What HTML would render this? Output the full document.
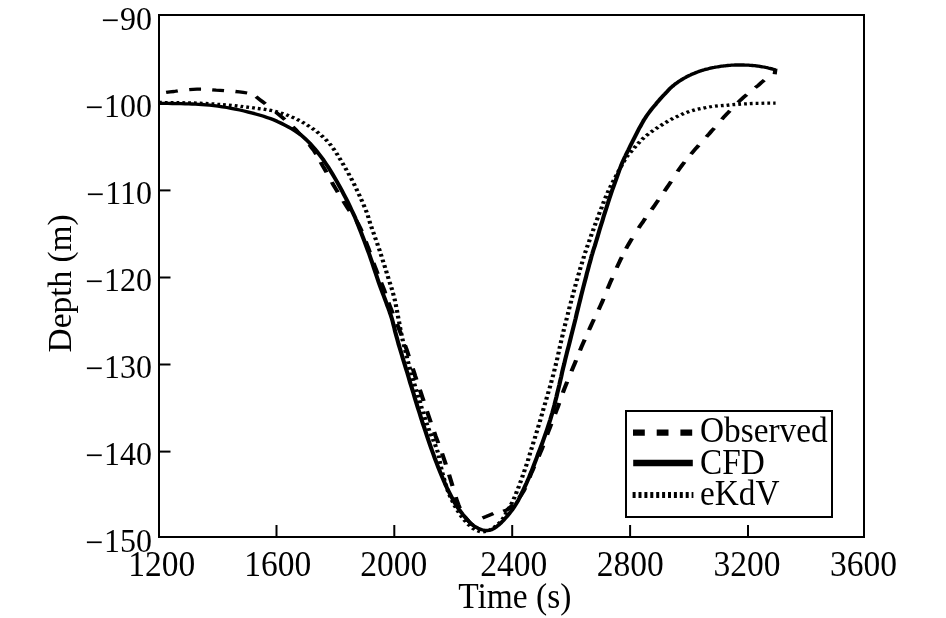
<!DOCTYPE html>
<html lang="en"><head><meta charset="utf-8"><title>Depth vs Time</title>
<style>
html,body{margin:0;padding:0;background:#fff;}
body{width:946px;height:618px;overflow:hidden;}
svg{display:block;}
text{font-family:"Liberation Serif",serif;font-size:32.5px;fill:#000;}
.ax{fill:none;stroke:#000;stroke-width:2;}
.c{fill:none;stroke:#000;stroke-width:3.3;stroke-linejoin:round;}
</style></head><body>
<svg width="946" height="618" viewBox="0 0 946 618">
<rect width="946" height="618" fill="#fff"/>
<g transform="scale(1.27 1)" fill="none" stroke="#000" stroke-width="3.3" stroke-linejoin="round">
<path d="M125.2 102.5 127.4 102.5M129.8 102.6 132.0 102.6M134.4 102.6 136.6 102.6M139.0 102.7 141.2 102.7M143.6 102.7 145.8 102.8M148.1 102.9 150.4 102.9M152.7 103.0 154.9 103.1M157.3 103.2 159.5 103.3M161.9 103.5 164.1 103.7M166.5 103.8 168.7 104.0M171.1 104.3 173.3 104.5M175.6 104.7 177.8 104.9M180.2 105.2 182.4 105.5M184.8 105.7 187.0 106.0M189.4 106.3 191.5 106.7M193.9 107.0 196.1 107.3M198.5 107.7 200.7 108.1M203.0 108.5 205.2 108.8M207.6 109.2 209.8 109.6M212.1 110.1 214.3 110.6M216.6 111.3 218.7 112.0M221.0 112.9 223.1 113.8M225.4 114.8 227.4 115.8M229.6 116.9 231.7 118.0M233.8 119.3 235.8 120.5M237.9 122.0 239.8 123.4M241.8 125.0 243.7 126.5M245.7 128.2 247.5 129.8M249.4 131.6 251.1 133.4M252.9 135.3 254.6 137.2M256.3 139.3 257.8 141.3M259.4 143.6 260.8 145.7M262.2 148.2 263.5 150.4M264.8 153.0 266.0 155.3M267.2 157.9 268.4 160.3M269.6 163.0 270.7 165.4M271.9 168.0 273.0 170.4M274.2 173.0 275.2 175.5M276.4 178.2 277.4 180.6M278.5 183.3 279.5 185.8M280.5 188.6 281.4 191.1M282.4 193.9 283.4 196.4M284.3 199.2 285.3 201.7M286.2 204.5 287.1 207.1M288.0 209.9 288.8 212.5M289.6 215.3 290.2 218.0M290.9 220.9 291.5 223.6M292.3 226.5 293.0 229.1M293.8 232.0 294.6 234.6M295.3 237.5 296.1 240.1M296.9 243.0 297.6 245.6M298.4 248.5 299.1 251.1M299.8 254.0 300.5 256.7M301.2 259.6 301.9 262.2M302.6 265.1 303.3 267.8M304.0 270.7 304.6 273.4M305.3 276.2 306.0 278.9M306.7 281.8 307.4 284.5M308.1 287.4 308.8 290.0M309.4 292.9 310.0 295.6M310.6 298.6 311.1 301.3M311.6 304.3 312.0 307.0M312.5 310.0 312.9 312.8M313.3 315.7 313.7 318.5M314.2 321.5 314.6 324.2M315.0 327.2 315.4 329.9M315.9 332.9 316.3 335.7M316.8 338.6 317.3 341.3M317.9 344.3 318.4 347.0M319.0 350.0 319.5 352.7M320.1 355.6 320.6 358.3M321.2 361.3 321.8 364.0M322.4 366.9 323.0 369.6M323.6 372.5 324.2 375.2M324.9 378.1 325.5 380.8M326.2 383.7 326.9 386.4M327.6 389.3 328.2 391.9M328.9 394.8 329.6 397.5M330.3 400.4 330.9 403.1M331.6 406.0 332.2 408.7M333.0 411.6 333.6 414.2M334.3 417.1 335.0 419.8M335.8 422.7 336.5 425.3M337.3 428.1 338.1 430.8M339.0 433.6 339.8 436.2M340.8 439.0 341.6 441.5M342.5 444.3 343.3 446.9M344.1 449.8 344.8 452.5M345.4 455.4 345.8 458.1M346.2 461.1 346.7 463.9M347.2 466.8 347.7 469.5M348.3 472.5 348.8 475.2M349.5 478.1 350.1 480.8M350.7 483.7 351.4 486.4M352.2 489.3 352.9 491.9M353.8 494.7 354.7 497.3M355.7 500.0 356.7 502.5M357.8 505.2 358.9 507.6M360.1 510.2 361.3 512.6M362.6 515.1 363.9 517.4M365.4 519.7 366.9 521.9M368.5 524.1 370.1 526.0M371.9 527.9 373.8 529.5M375.9 530.8 378.0 531.6M380.4 531.8 382.6 531.4M384.8 530.5 386.8 529.1M388.8 527.5 390.6 525.9M392.4 523.9 394.0 522.0M395.5 519.6 396.7 517.3M397.9 514.7 399.0 512.3M400.2 509.6 401.3 507.2M402.4 504.5 403.4 502.0M404.4 499.3 405.3 496.7M406.2 493.9 407.0 491.3M407.9 488.5 408.7 485.9M409.5 483.0 410.3 480.4M411.1 477.5 411.8 474.9M412.6 472.1 413.3 469.4M414.1 466.5 414.8 463.9M415.6 461.0 416.2 458.3M416.9 455.4 417.5 452.7M418.2 449.8 418.9 447.2M419.6 444.3 420.2 441.6M421.0 438.7 421.6 436.0M422.3 433.1 423.0 430.5M423.6 427.6 424.3 424.9M425.0 422.0 425.6 419.3M426.2 416.4 426.9 413.7M427.5 410.8 428.1 408.1M428.8 405.2 429.4 402.5M430.1 399.6 430.7 396.9M431.4 394.0 432.0 391.3M432.7 388.4 433.3 385.7M433.9 382.8 434.5 380.1M435.1 377.2 435.7 374.5M436.3 371.5 436.8 368.8M437.4 365.9 437.9 363.1M438.5 360.2 439.0 357.5M439.5 354.5 440.0 351.8M440.5 348.8 441.0 346.1M441.5 343.1 442.0 340.4M442.5 337.5 443.1 334.7M443.6 331.8 444.1 329.1M444.7 326.1 445.2 323.4M445.8 320.5 446.4 317.8M447.0 314.8 447.5 312.1M448.1 309.2 448.6 306.5M449.3 303.5 449.8 300.8M450.4 297.9 451.0 295.2M451.6 292.3 452.2 289.6M452.8 286.6 453.4 284.0M454.1 281.0 454.7 278.3M455.3 275.4 456.0 272.7M456.6 269.8 457.2 267.1M457.9 264.2 458.6 261.6M459.3 258.7 459.9 256.0M460.6 253.1 461.4 250.5M462.1 247.6 462.9 245.0M463.7 242.1 464.4 239.5M465.2 236.6 465.9 234.0M466.8 231.1 467.5 228.5M468.3 225.6 469.1 223.0M469.9 220.2 470.7 217.6M471.5 214.7 472.3 212.1M473.2 209.3 474.0 206.6M474.8 203.8 475.6 201.2M476.5 198.4 477.4 195.8M478.3 193.0 479.2 190.5M480.3 187.8 481.2 185.2M482.3 182.6 483.3 180.1M484.5 177.4 485.5 174.9M486.6 172.2 487.6 169.8M488.8 167.1 489.8 164.7M491.0 162.0 492.1 159.6M493.4 157.0 494.7 154.8M496.3 152.5 497.8 150.4M499.3 148.1 500.7 146.0M502.3 143.7 503.8 141.7M505.5 139.5 507.1 137.6M508.9 135.6 510.7 133.9M512.6 132.1 514.4 130.5M516.4 128.8 518.2 127.2M520.2 125.6 522.1 124.1M524.1 122.6 526.0 121.2M528.1 119.6 530.0 118.3M532.2 117.1 534.2 115.9M536.4 114.7 538.4 113.5M540.6 112.4 542.7 111.5M545.0 110.6 547.1 109.9M549.4 109.2 551.6 108.7M553.9 108.1 556.1 107.5M558.4 107.0 560.6 106.5M563.0 106.1 565.2 105.8M567.6 105.7 569.8 105.5M572.1 105.3 574.3 105.0M576.7 104.7 578.9 104.5M581.3 104.3 583.5 104.1M585.9 103.9 588.1 103.8M590.4 103.6 592.6 103.5M595.0 103.4 597.2 103.4M599.6 103.3 601.8 103.2M604.2 103.2 606.4 103.2M608.8 103.1 610.7 103.1"/>
<path d="M130.8 92.4 133.9 91.9 137.0 91.5 140.0 90.9M149.0 89.6 152.1 89.3 155.2 89.2 158.3 89.2M167.1 89.8 170.2 90.1 173.3 90.3 176.4 90.6M185.4 91.5 188.5 91.9 191.5 92.4 194.6 93.0M201.6 96.7 204.0 99.1 206.5 101.5 209.0 103.9M217.2 112.1 219.6 114.6 222.0 117.2 224.3 119.7M230.6 126.9 232.8 129.6 234.9 132.4 237.1 135.3M243.6 144.7 245.5 147.8 247.4 151.0 249.0 154.3M252.5 162.1 254.0 165.6 255.6 169.0 257.1 172.4M261.3 182.1 262.8 185.5 264.4 188.9 266.0 192.3M270.3 201.1 271.9 204.4 273.6 207.8 275.3 211.0M280.6 220.9 282.2 224.3 283.6 227.8 284.9 231.3M288.0 241.5 289.1 245.2 290.2 248.8 291.2 252.5M294.1 263.0 295.2 266.7 296.3 270.3 297.4 274.0M300.1 282.5 301.3 286.2 302.4 289.8 303.4 293.5M305.9 302.5 307.0 306.2 308.1 309.8 309.3 313.5M312.6 323.9 313.8 327.6 314.9 331.2 316.0 334.9M318.9 345.2 320.0 348.9 321.0 352.7 321.9 356.4M325.0 368.5 326.0 372.2 326.9 376.0 327.9 379.7M330.6 389.8 331.6 393.5 332.6 397.3 333.6 401.0M336.2 411.2 337.2 414.9 338.2 418.7 339.2 422.4M341.9 432.0 342.9 435.7 344.0 439.4 345.1 443.1M348.1 453.4 349.1 457.1 350.1 460.9 351.1 464.6M353.6 474.7 354.5 478.4 355.4 482.2 356.3 486.0M358.9 497.1 359.8 500.8 360.9 504.5 362.1 508.2M365.9 516.7 367.9 519.7 369.9 522.7 372.3 525.2M379.9 517.9 382.8 516.5 385.7 515.0 388.5 513.5M396.2 511.2 399.1 510.0 401.5 507.5 403.7 504.8M408.7 497.8 410.6 494.6 412.2 491.3 413.6 487.8M417.0 477.5 418.1 473.8 419.4 470.2 420.6 466.6M424.2 456.4 425.4 452.8 426.6 449.2 427.7 445.5M430.8 434.7 431.9 431.0 433.0 427.4 434.1 423.7M437.1 414.0 438.2 410.3 439.3 406.7 440.3 403.0M443.2 392.7 444.3 389.0 445.4 385.4 446.6 381.7M450.0 371.2 451.2 367.6 452.4 364.0 453.6 360.3M456.7 350.4 457.9 346.8 459.1 343.2 460.4 339.6M463.8 330.0 465.1 326.4 466.4 322.8 467.7 319.3M471.4 309.6 472.7 306.0 474.0 302.4 475.2 298.8M478.4 288.8 479.6 285.2 480.8 281.6 482.1 278.0M485.6 267.8 486.9 264.3 488.2 260.7 489.6 257.2M493.0 248.7 494.5 245.2 496.1 241.8 497.7 238.4M502.9 228.1 504.6 224.8 506.4 221.6 508.1 218.3M513.1 209.6 514.9 206.4 516.6 203.2 518.4 200.0M523.2 191.2 525.0 187.9 526.7 184.7 528.4 181.4M533.5 171.5 535.3 168.3 537.1 165.1 539.0 162.0M544.1 154.2 546.1 151.2 548.1 148.2 550.2 145.3M556.2 136.9 558.3 134.0 560.3 131.0 562.4 128.1M568.4 119.4 570.4 116.4 572.6 113.6 574.7 110.7M581.1 102.5 583.3 99.8 585.6 97.2 588.0 94.6M594.7 87.7 597.1 85.3 599.4 82.7 601.8 80.2M610.0 74.2 610.6 68.6"/>
<path d="M125.2 103.3 128.7 103.4 132.2 103.4 135.7 103.5 139.2 103.6 142.5 103.7 145.7 103.8 148.6 103.9 151.3 104.0 153.8 104.1 156.4 104.3 159.1 104.5 162.0 104.8 165.1 105.2 168.4 105.7 171.7 106.2 175.2 106.9 178.6 107.5 182.0 108.3 185.3 109.1 188.8 110.0 192.2 111.0 195.6 112.1 198.9 113.1 202.0 114.2 204.9 115.3 207.6 116.3 210.2 117.4 212.8 118.5 215.4 119.8 218.1 121.3 221.0 123.0 223.9 124.9 226.9 126.9 229.9 129.0 232.7 131.2 235.3 133.4 237.6 135.7 239.8 138.1 241.8 140.5 243.8 143.0 245.7 145.7 247.6 148.4 249.4 151.2 251.2 154.1 253.0 157.1 254.8 160.2 256.5 163.4 258.3 166.8 260.1 170.4 261.9 174.2 263.7 178.1 265.5 182.2 267.3 186.2 269.0 190.1 270.6 194.1 272.3 198.1 273.9 202.2 275.4 206.2 276.8 210.0 278.1 213.4 279.2 216.3 280.0 218.8 280.8 221.1 281.5 223.4 282.3 226.0 283.2 229.1 284.4 232.7 285.6 236.8 286.9 241.0 288.2 245.5 289.5 250.0 290.8 254.4 292.0 258.9 293.3 263.5 294.5 268.3 295.7 272.9 296.9 277.4 298.0 281.6 299.1 285.6 300.2 289.4 301.3 293.0 302.3 296.4 303.3 299.8 304.2 302.9 305.0 305.8 305.8 308.3 306.5 310.7 307.1 313.1 307.8 315.6 308.5 318.4 309.2 321.5 309.8 324.6 310.5 327.9 311.1 331.4 311.9 335.1 312.8 339.1 313.7 343.5 314.8 348.2 316.0 353.2 317.2 358.3 318.4 363.3 319.6 368.3 320.8 373.1 321.9 378.0 323.0 382.8 324.2 387.7 325.4 392.5 326.5 397.4 327.7 402.3 328.9 407.3 330.2 412.3 331.4 417.3 332.6 422.2 333.9 427.0 335.1 431.7 336.3 436.2 337.5 440.7 338.7 445.2 339.9 449.6 341.2 454.1 342.5 458.7 343.9 463.4 345.3 468.1 346.8 472.7 348.2 477.1 349.6 481.3 351.0 485.3 352.4 489.2 353.9 492.9 355.3 496.4 356.7 499.7 358.0 502.7 359.4 505.5 360.6 508.0 361.9 510.2 363.2 512.3 364.4 514.3 365.7 516.3 366.9 518.2 368.2 520.0 369.4 521.7 370.7 523.3 371.9 524.7 373.3 526.0 374.8 527.1 376.3 528.2 377.9 529.0 379.5 529.7 381.0 530.2 382.4 530.5 383.8 530.5 385.0 530.4 386.3 530.0 387.5 529.4 388.7 528.6 390.1 527.5 391.5 526.1 393.1 524.5 394.7 522.6 396.3 520.5 397.8 518.4 399.3 516.3 400.7 514.2 402.0 512.0 403.3 509.8 404.6 507.5 405.8 505.1 406.9 502.7 408.1 500.2 409.2 497.5 410.2 494.8 411.2 492.1 412.2 489.5 413.1 487.1 413.9 484.9 414.6 483.0 415.2 481.2 415.9 479.3 416.6 477.3 417.3 475.0 418.1 472.4 419.0 469.7 419.9 466.8 420.8 463.7 421.8 460.5 422.8 457.1 423.8 453.5 425.0 449.7 426.2 445.7 427.4 441.6 428.5 437.6 429.6 433.8 430.6 430.1 431.5 426.6 432.4 423.1 433.3 419.6 434.1 416.1 435.0 412.4 435.8 408.7 436.6 404.9 437.3 401.0 438.1 397.1 438.8 393.1 439.6 389.1 440.4 385.0 441.1 380.9 441.9 376.7 442.6 372.4 443.4 368.1 444.3 363.7 445.1 359.2 446.0 354.7 446.9 350.1 447.9 345.5 448.8 340.9 449.7 336.3 450.6 331.8 451.5 327.2 452.4 322.7 453.3 318.2 454.1 313.6 455.0 309.1 455.9 304.5 456.8 299.9 457.7 295.3 458.6 290.7 459.5 286.2 460.4 281.9 461.3 277.7 462.1 273.4 463.0 269.3 463.8 265.4 464.6 261.8 465.3 258.6 465.8 256.0 466.3 254.1 466.7 252.4 467.1 250.7 467.6 248.7 468.3 246.0 469.1 242.6 470.0 238.8 471.0 234.6 472.0 230.2 473.1 225.7 474.2 221.3 475.2 216.9 476.3 212.5 477.5 207.9 478.6 203.4 479.8 198.7 481.0 194.1 482.3 189.2 483.8 184.1 485.2 179.0 486.6 174.0 487.9 169.4 489.1 165.5 490.1 162.3 491.0 159.7 491.8 157.5 492.6 155.5 493.3 153.6 494.1 151.6 494.9 149.6 495.6 147.7 496.3 145.9 497.0 144.1 497.7 142.3 498.5 140.4 499.3 138.4 500.1 136.4 500.9 134.4 501.7 132.3 502.5 130.3 503.4 128.2 504.3 126.2 505.2 124.1 506.1 122.1 507.0 120.0 508.1 117.9 509.2 115.8 510.5 113.5 511.9 111.2 513.4 108.7 514.9 106.4 516.4 104.2 517.6 102.2 518.8 100.5 519.8 99.0 520.7 97.7 521.6 96.5 522.5 95.3 523.5 94.0 524.4 92.7 525.4 91.4 526.4 90.1 527.3 88.8 528.3 87.6 529.3 86.5 530.3 85.5 531.2 84.5 532.2 83.6 533.2 82.7 534.1 81.8 535.1 81.0 536.1 80.2 537.1 79.4 538.0 78.7 539.0 78.0 540.0 77.3 540.9 76.6 541.9 76.0 542.9 75.4 543.9 74.8 544.8 74.2 545.8 73.7 546.8 73.2 547.7 72.7 548.7 72.2 549.7 71.8 550.7 71.3 551.6 70.9 552.6 70.5 553.6 70.1 554.5 69.8 555.5 69.4 556.5 69.1 557.5 68.8 558.4 68.5 559.4 68.2 560.4 67.9 561.3 67.7 562.3 67.5 563.3 67.2 564.3 67.0 565.2 66.8 566.2 66.6 567.2 66.4 568.1 66.2 569.1 66.1 570.1 65.9 571.0 65.8 572.0 65.6 573.0 65.5 574.0 65.4 574.9 65.3 575.9 65.2 576.9 65.1 577.8 65.1 578.8 65.0 579.8 65.0 580.8 65.0 581.7 65.0 582.7 65.0 583.7 65.0 584.6 65.0 585.6 65.0 586.6 65.1 587.6 65.1 588.5 65.2 589.5 65.2 590.5 65.3 591.4 65.4 592.4 65.5 593.4 65.6 594.4 65.7 595.3 65.9 596.3 66.0 597.3 66.2 598.2 66.4 599.2 66.6 600.2 66.8 601.2 67.0 602.2 67.2 603.1 67.5 604.1 67.7 605.0 68.0 606.0 68.3 606.9 68.6 607.8 68.9 608.7 69.2 609.6 69.5 610.5 69.8"/>
</g>
<rect class="ax" x="159" y="15" width="705" height="522"/>
<line class="ax" x1="159" x2="170.5" y1="103.3" y2="103.3"/>
<line class="ax" x1="159" x2="170.5" y1="190.4" y2="190.4"/>
<line class="ax" x1="159" x2="170.5" y1="277.5" y2="277.5"/>
<line class="ax" x1="159" x2="170.5" y1="364.5" y2="364.5"/>
<line class="ax" x1="159" x2="170.5" y1="451.6" y2="451.6"/>
<line class="ax" x1="276.5" x2="276.5" y1="537" y2="525"/>
<line class="ax" x1="394.3" x2="394.3" y1="537" y2="525"/>
<line class="ax" x1="512.2" x2="512.2" y1="537" y2="525"/>
<line class="ax" x1="630.1" x2="630.1" y1="537" y2="525"/>
<line class="ax" x1="748" x2="748" y1="537" y2="525"/>
<text transform="translate(153.0 29.5) scale(1 1.085)" style="font-size:32px" text-anchor="end"><tspan dx="-0.9" dy="2.1">−</tspan><tspan dx="0.9" dy="-2.1">90</tspan></text>
<text transform="translate(153.0 116.5) scale(1 1.085)" style="font-size:32px" text-anchor="end"><tspan dx="-0.9" dy="2.1">−</tspan><tspan dx="0.9" dy="-2.1">100</tspan></text>
<text transform="translate(153.0 203.5) scale(1 1.085)" style="font-size:32px" text-anchor="end"><tspan dx="-0.9" dy="2.1">−</tspan><tspan dx="0.9" dy="-2.1">110</tspan></text>
<text transform="translate(153.0 290.5) scale(1 1.085)" style="font-size:32px" text-anchor="end"><tspan dx="-0.9" dy="2.1">−</tspan><tspan dx="0.9" dy="-2.1">120</tspan></text>
<text transform="translate(153.0 377.5) scale(1 1.085)" style="font-size:32px" text-anchor="end"><tspan dx="-0.9" dy="2.1">−</tspan><tspan dx="0.9" dy="-2.1">130</tspan></text>
<text transform="translate(153.0 464.5) scale(1 1.085)" style="font-size:32px" text-anchor="end"><tspan dx="-0.9" dy="2.1">−</tspan><tspan dx="0.9" dy="-2.1">140</tspan></text>
<text transform="translate(153.0 551.5) scale(1 1.085)" style="font-size:32px" text-anchor="end"><tspan dx="-0.9" dy="2.1">−</tspan><tspan dx="0.9" dy="-2.1">150</tspan></text>
<text transform="translate(161.8 575.5) scale(1 1.04)" style="font-size:33.5px" text-anchor="middle">1200</text>
<text transform="translate(277.8 575.5) scale(1 1.04)" style="font-size:33.5px" text-anchor="middle">1600</text>
<text transform="translate(393.8 575.5) scale(1 1.04)" style="font-size:33.5px" text-anchor="middle">2000</text>
<text transform="translate(513.8 575.5) scale(1 1.04)" style="font-size:33.5px" text-anchor="middle">2400</text>
<text transform="translate(630.3 575.5) scale(1 1.04)" style="font-size:33.5px" text-anchor="middle">2800</text>
<text transform="translate(747.0999999999999 575.5) scale(1 1.04)" style="font-size:33.5px" text-anchor="middle">3200</text>
<text transform="translate(863.5 575.5) scale(1 1.04)" style="font-size:33.5px" text-anchor="middle">3600</text>
<text transform="translate(514.75 608) scale(1 1.038)" style="font-size:33.5px" text-anchor="middle">Time (s)</text>
<text transform="translate(71.3 283.4) rotate(-90) scale(1 0.98)" style="font-size:33.4px" text-anchor="middle">Depth (m)</text>
<rect class="ax" x="626" y="411" width="206" height="106" fill="#fff"/>
<line x1="633" x2="692.8" y1="432.7" y2="432.7" stroke="#000" stroke-width="6.3" stroke-dasharray="11.8 11.9"/>
<line x1="633.2" x2="692.8" y1="463" y2="463" stroke="#000" stroke-width="6.3"/>
<line x1="632.6" x2="693.4" y1="495" y2="495" stroke="#000" stroke-width="6.2" stroke-dasharray="3 2.9"/>
<text transform="translate(700 442.1) scale(1 1.075)" style="font-size:33.3px">Observed</text>
<text transform="translate(700 474.2) scale(1 1.075)" style="font-size:33.3px">CFD</text>
<text transform="translate(700 505.1) scale(1 1.075)" style="font-size:33.3px">eKdV</text>
</svg>
</body></html>
